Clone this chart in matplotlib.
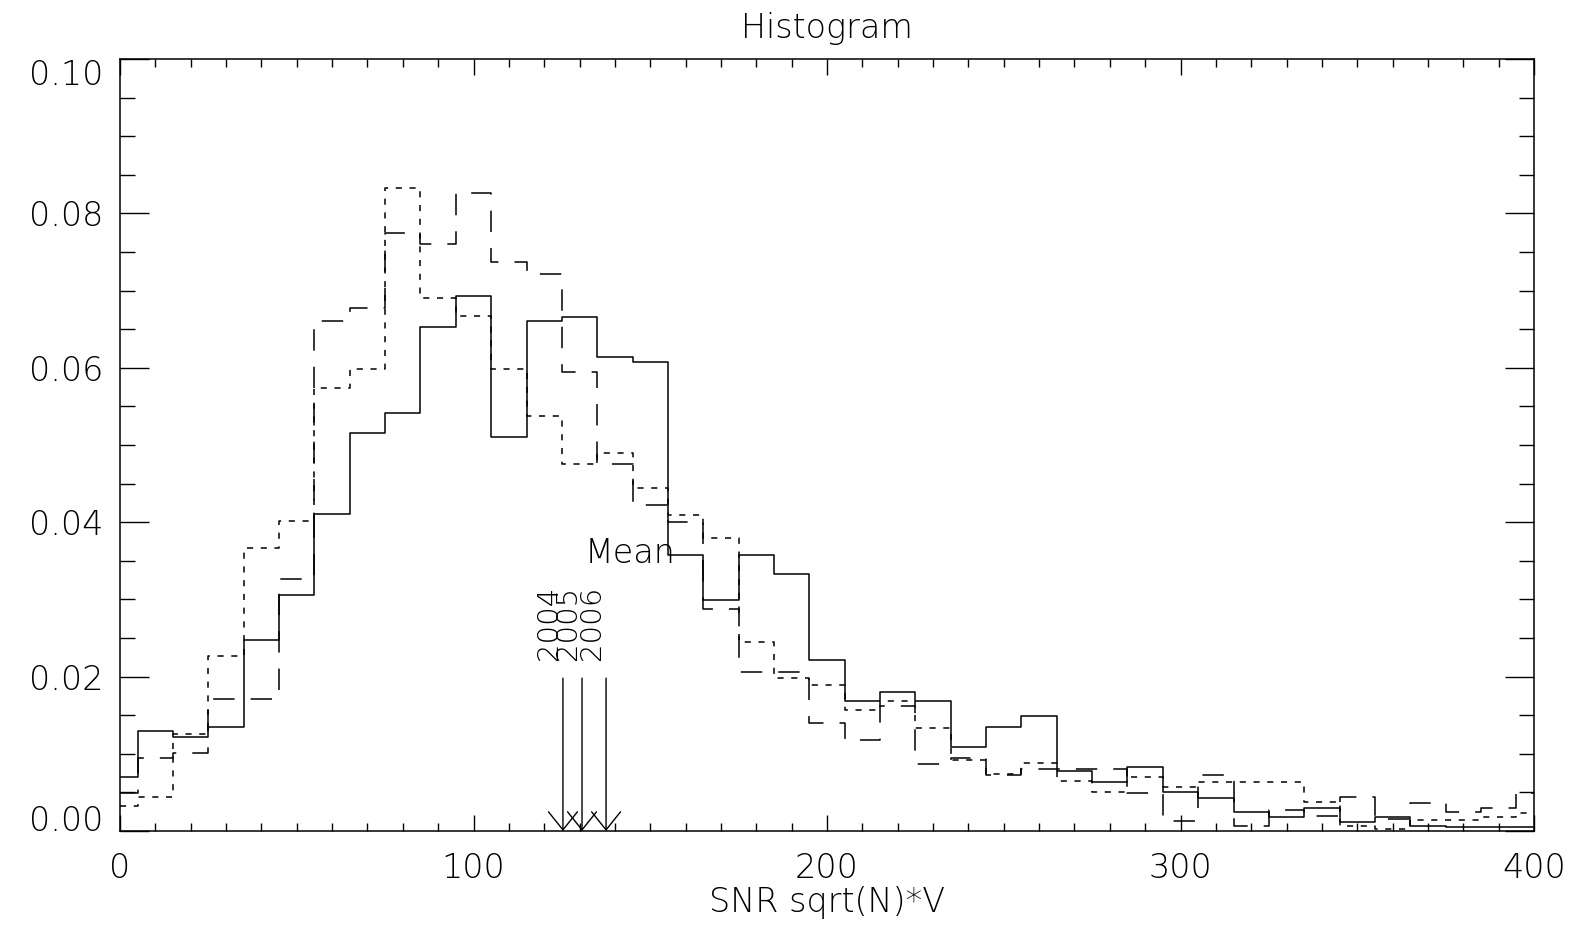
import numpy as np
import matplotlib
matplotlib.use("Agg")
import matplotlib.pyplot as plt
from matplotlib.ticker import MultipleLocator, FixedLocator

# ---- data -------------------------------------------------------------
bin_centers = np.arange(0, 410, 10)

solid_vals = [0.0070, 0.0129, 0.0122, 0.0135, 0.0247, 0.0306, 0.0410, 0.0516, 0.0541, 0.0653,
              0.0693, 0.0510, 0.0660, 0.0666, 0.0614, 0.0608, 0.0358, 0.0299, 0.0358, 0.0333,
              0.0221, 0.0168, 0.0180, 0.0168, 0.0109, 0.0135, 0.0149, 0.0078, 0.0064, 0.0083,
              0.0051, 0.0043, 0.0024, 0.0018, 0.0030, 0.0012, 0.0018, 0.0006, 0.0005, 0.0005,
              0.0005]

dashed_vals = [0.0049, 0.0095, 0.0101, 0.0171, 0.0171, 0.0326, 0.0660, 0.0678, 0.0774, 0.0760,
               0.0826, 0.0737, 0.0721, 0.0595, 0.0475, 0.0422, 0.0400, 0.0288, 0.0206, 0.0206,
               0.0140, 0.0118, 0.0162, 0.0087, 0.0095, 0.0073, 0.0080, 0.0080, 0.0080, 0.0049,
               0.0013, 0.0073, 0.0006, 0.0027, 0.0020, 0.0044, 0.0015, 0.0036, 0.0025, 0.0030,
               0.0049]

dotted_vals = [0.0032, 0.0044, 0.0126, 0.0227, 0.0367, 0.0401, 0.0574, 0.0599, 0.0833, 0.0690,
               0.0667, 0.0599, 0.0537, 0.0476, 0.0489, 0.0444, 0.0409, 0.0380, 0.0245, 0.0198,
               0.0189, 0.0157, 0.0168, 0.0133, 0.0092, 0.0074, 0.0088, 0.0065, 0.0050, 0.0070,
               0.0057, 0.0063, 0.0063, 0.0063, 0.0037, 0.0006, 0.0002, 0.0014, 0.0014, 0.0018,
               0.0023]

mean_years = ["2004", "2005", "2006"]
mean_values = [125.3, 130.7, 137.5]
mean_line_top = 0.0198
mean_label_y = 0.0222
mean_text_x = 131.5
mean_text_y = 0.0347

x_major_ticks = [0, 100, 200, 300, 400]
y_major_ticks = [0.00, 0.02, 0.04, 0.06, 0.08, 0.10]
y_tick_labels = ["0.00", "0.02", "0.04", "0.06", "0.08", "0.10"]

# ---- figure -----------------------------------------------------------
plt.rcParams['font.family'] = ['DejaVu Sans']
fig = plt.figure(figsize=(15.76, 9.44), dpi=100)
ax = fig.add_axes([120/1576, 113/944, 1414/1576, 772/944])

lw = 1.1
ax.step(bin_centers, solid_vals, where='mid', color='black', lw=lw, linestyle='-')
ax.step(bin_centers, dashed_vals, where='mid', color='black', lw=lw, linestyle=(0, (14, 10.5)))
ax.step(bin_centers, dotted_vals, where='mid', color='black', lw=lw, linestyle=(0, (4, 5)))

fs = 24
for m, yr in zip(mean_values, mean_years):
    ax.annotate('', xy=(m, 0), xytext=(m, mean_line_top),
                arrowprops=dict(arrowstyle='->, head_length=1.0, head_width=0.8',
                                lw=1.0, color='black', shrinkA=0, shrinkB=0,
                                mutation_scale=13))
    ax.text(m, mean_label_y, yr, rotation=90, ha='right', va='bottom',
            fontsize=21, fontweight='light', color='black')
ax.text(mean_text_x, mean_text_y, "Mean", ha='left', va='baseline',
        fontsize=fs, fontweight='light', color='black')

ax.set_xlim(0, 400)
ax.set_ylim(0, 0.10)
ax.xaxis.set_major_locator(FixedLocator(x_major_ticks))
ax.xaxis.set_minor_locator(MultipleLocator(10))
ax.yaxis.set_major_locator(FixedLocator(y_major_ticks))
ax.yaxis.set_minor_locator(MultipleLocator(0.005))
ax.set_yticklabels(y_tick_labels)

ax.tick_params(axis='both', which='both', direction='in', top=True, right=True,
               width=1.0, colors='black', labelsize=fs)
ax.tick_params(axis='x', which='major', length=11.5, pad=15)
ax.tick_params(axis='x', which='minor', length=5.8)
ax.tick_params(axis='y', which='major', length=21, pad=12)
ax.tick_params(axis='y', which='minor', length=10.8)

for lab in ax.get_xticklabels() + ax.get_yticklabels():
    lab.set_fontweight('light')
ylabs = ax.get_yticklabels()
ylabs[0].set_verticalalignment('baseline')
ylabs[-1].set_verticalalignment('top')

for sp in ax.spines.values():
    sp.set_linewidth(1.1)
    sp.set_color('black')

ax.set_xlabel("SNR sqrt(N)*V", fontsize=fs, fontweight='light', labelpad=1)
ax.set_title("Histogram", fontsize=fs, fontweight='light', pad=15)

fig.savefig("out.png", dpi=100, facecolor='white')
